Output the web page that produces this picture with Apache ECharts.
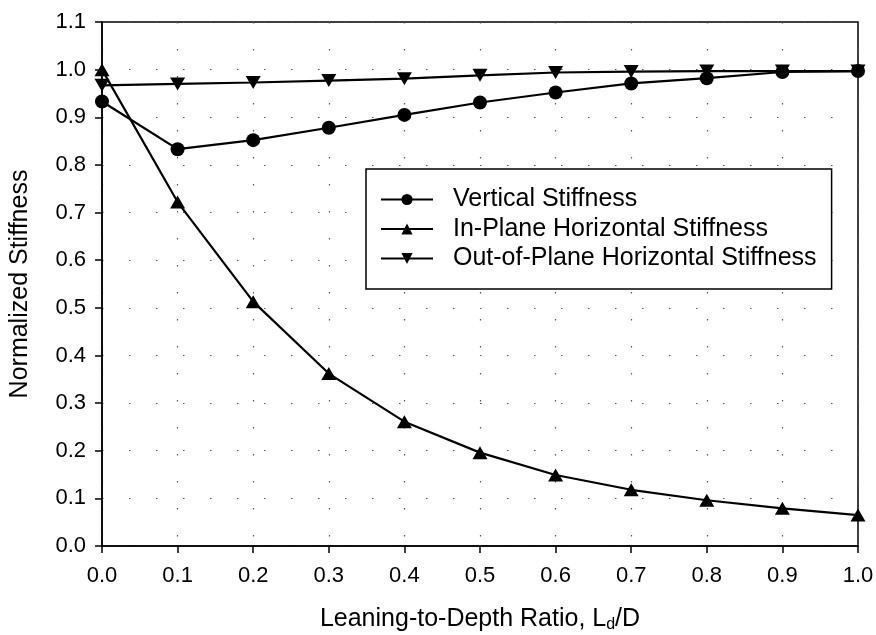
<!DOCTYPE html>
<html>
<head>
<meta charset="utf-8">
<script src="https://cdn.jsdelivr.net/npm/echarts@6/dist/echarts.min.js"></script>
<style>
  html, body { margin: 0; padding: 0; background: #fff; }
  #chart { width: 876px; height: 635px; }
</style>
</head>
<body>
<div id="chart"></div>
<script>
// Leaning-to-depth ratio values on the x axis
const ratios = [0.0, 0.1, 0.2, 0.3, 0.4, 0.5, 0.6, 0.7, 0.8, 0.9, 1.0];

// Normalized stiffness for each component
const verticalStiffness      = [0.933, 0.833, 0.852, 0.878, 0.905, 0.931, 0.952, 0.971, 0.982, 0.995, 0.997];
const inPlaneStiffness       = [1.000, 0.722, 0.513, 0.362, 0.261, 0.196, 0.149, 0.118, 0.096, 0.079, 0.065];
const outOfPlaneStiffness    = [0.967, 0.970, 0.973, 0.977, 0.981, 0.988, 0.994, 0.996, 0.997, 0.997, 0.997];

const seriesNames = [
  'Vertical Stiffness',
  'In-Plane Horizontal Stiffness',
  'Out-of-Plane Horizontal Stiffness'
];

const FONT = 'Arial, "Liberation Sans", Helvetica, sans-serif';
const pairs = ys => ratios.map((x, i) => [x, ys[i]]);

const chart = echarts.init(document.getElementById('chart'), null, { renderer: 'canvas' });

const gridDots = { color: '#555', width: 1.2, type: [1.5, 25.5] };

chart.setOption({
  backgroundColor: '#fff',
  animation: false,
  textStyle: { fontFamily: FONT, color: '#000' },
  grid: {
    left: 102, right: 18, top: 22, bottom: 89,
    containLabel: false, outerBoundsMode: 'none',
    show: true, borderColor: '#000', borderWidth: 1.5, backgroundColor: 'transparent'
  },
  legend: {
    orient: 'vertical',
    left: 366, top: 169,
    backgroundColor: '#fff',
    borderColor: '#000', borderWidth: 1.5, borderRadius: 0,
    padding: [18, 15, 18, 14],
    itemWidth: 52, itemHeight: 14, itemGap: 4.5,
    data: seriesNames,
    textStyle: { fontFamily: FONT, fontSize: 25, color: '#000', padding: [0, 0, 0, 15] }
  },
  xAxis: {
    type: 'value', min: 0, max: 1, interval: 0.1,
    name: 'Leaning-to-Depth Ratio, L{sub|d}/D',
    nameLocation: 'middle', nameGap: 60,
    nameTextStyle: {
      fontFamily: FONT, fontSize: 25, color: '#000',
      rich: { sub: { fontFamily: FONT, fontSize: 16, color: '#000', padding: [11, 0, 0, 0] } }
    },
    axisLine: { show: true, onZero: false, lineStyle: { color: '#000', width: 1.5 } },
    axisTick: { show: true, inside: false, length: 7, lineStyle: { color: '#000', width: 1.5 } },
    axisLabel: { margin: 19, fontSize: 22, color: '#000', formatter: v => v.toFixed(1) },
    splitLine: { show: true, lineStyle: gridDots }
  },
  yAxis: {
    type: 'value', min: 0, max: 1.1, interval: 0.1,
    name: 'Normalized Stiffness',
    nameLocation: 'middle', nameGap: 69,
    nameTextStyle: { fontFamily: FONT, fontSize: 25, color: '#000' },
    axisLine: { show: true, onZero: false, lineStyle: { color: '#000', width: 1.5 } },
    axisTick: { show: true, inside: false, length: 7, lineStyle: { color: '#000', width: 1.5 } },
    axisLabel: { margin: 16, fontSize: 22, color: '#000', formatter: v => v.toFixed(1) },
    splitLine: { show: true, lineStyle: gridDots }
  },
  series: [
    {
      name: seriesNames[0], type: 'line', data: pairs(verticalStiffness),
      symbol: 'circle', symbolSize: 14, showAllSymbol: true,
      lineStyle: { color: '#000', width: 2.2 }, itemStyle: { color: '#000' }, z: 3
    },
    {
      name: seriesNames[1], type: 'line', data: pairs(inPlaneStiffness),
      symbol: 'triangle', symbolSize: [15, 13], showAllSymbol: true,
      lineStyle: { color: '#000', width: 2.2 }, itemStyle: { color: '#000' }, z: 3
    },
    {
      name: seriesNames[2], type: 'line', data: pairs(outOfPlaneStiffness),
      symbol: 'triangle', symbolRotate: 180, symbolSize: [15, 13], showAllSymbol: true,
      lineStyle: { color: '#000', width: 2.2 }, itemStyle: { color: '#000' }, z: 3
    }
  ]
});
</script>
</body>
</html>
